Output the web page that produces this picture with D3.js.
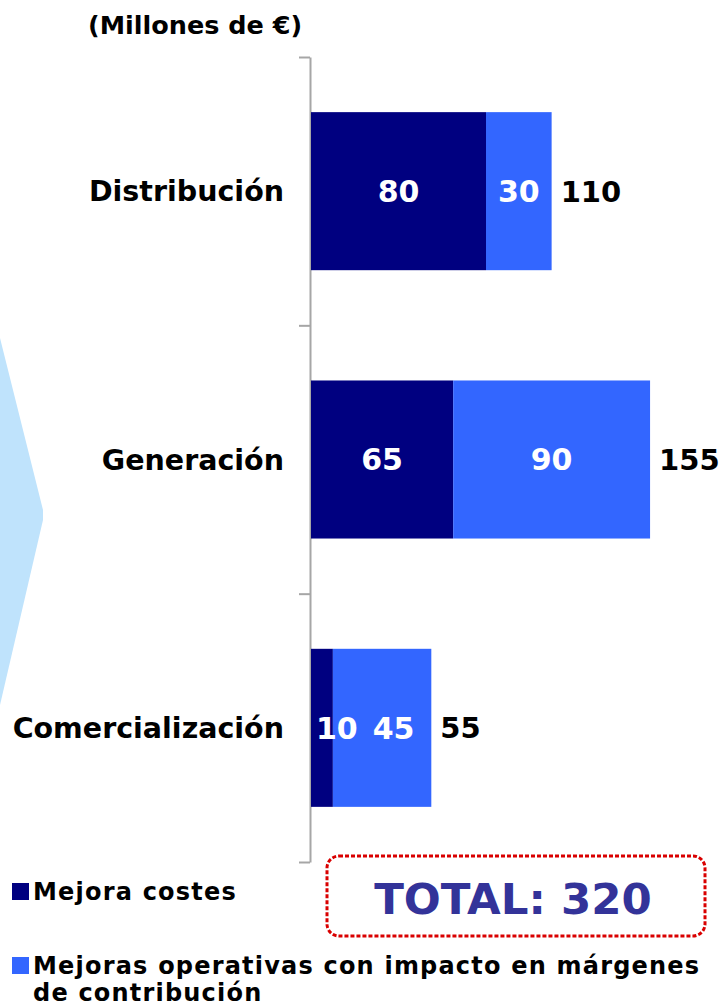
<!DOCTYPE html>
<html>
<head>
<meta charset="utf-8">
<script src="https://cdn.jsdelivr.net/npm/d3@7"></script>
<style>
  html, body { margin: 0; padding: 0; background: #fff; }
  svg { display: block; }
  text { font-family: "DejaVu Sans", Verdana, sans-serif; font-weight: bold; }
</style>
</head>
<body>
<svg id="chart" width="719" height="1007"></svg>
<script>
// ---- data ----
const categories = ["Distribución", "Generación", "Comercialización"];
const seriesNames = ["Mejora costes", "Mejoras operativas con impacto en márgenes de contribución"];
const costes = [80, 65, 10];
const operativas = [30, 90, 45];
const totals = [110, 155, 55];
const unitLabel = "(Millones de €)";
const totalLabel = "TOTAL: 320";

// ---- style ----
const colors = ["#000080", "#3366FF"];
const svg = d3.select("#chart");

// background chevron
svg.append("path")
  .attr("d", "M-20,335 L0,338 L43,510 L43,520 L0,705 L-20,705 Z")
  .attr("fill", "#BFE3FC");

// scales
const y = d3.scaleBand().domain(categories).range([57, 862]).paddingInner(0.411).paddingOuter(0.2055);
const x = d3.scaleLinear().domain([0, 100]).range([311, 529.75]);
const yTicks = d3.scaleLinear().domain([0, 3]).range([57, 862]);

// axis with ticks at band boundaries
const axisG = svg.append("g").attr("transform", "translate(310,0)")
  .call(d3.axisLeft(yTicks).tickValues([0, 1, 2, 3]).tickFormat("").tickSize(11).tickSizeOuter(0));
axisG.selectAll("path, line").attr("stroke", "#A6A6A6").attr("stroke-width", 2);

// stacked data
const rows = categories.map((c, i) => ({ cat: c, vals: [costes[i], operativas[i]], total: totals[i] }));

rows.forEach(r => {
  let acc = 0;
  const segs = r.vals.map((v, k) => { const s = { x0: acc, x1: acc + v, v, k }; acc += v; return s; });
  const g = svg.append("g");
  g.selectAll("rect").data(segs).join("rect")
    .attr("x", d => x(d.x0))
    .attr("width", d => x(d.x1) - x(d.x0))
    .attr("y", y(r.cat))
    .attr("height", y.bandwidth())
    .attr("fill", d => colors[d.k]);

  // labels inside segments, with simple overlap avoidance
  const cy = y(r.cat) + y.bandwidth() / 2;
  let prevRight = -Infinity;
  segs.forEach((s, idx) => {
    const t = g.append("text").text(s.v)
      .attr("font-size", 30).attr("fill", "#fff")
      .attr("dy", "0.36em").attr("text-anchor", "start");
    const w = t.node().getComputedTextLength();
    let left = (x(s.x0) + x(s.x1)) / 2 - w / 2;
    if (idx === 0) left = Math.max(left, x(s.x0) + 5);
    else left = Math.max(left, prevRight + 15);
    t.attr("x", left).attr("y", cy);
    prevRight = left + w;
  });
  // total label
  g.append("text").text(r.total)
    .attr("x", x(r.total) + 9).attr("y", cy).attr("dy", "0.36em")
    .attr("font-size", 29).attr("fill", "#000");
  // category label
  svg.append("text").text(r.cat)
    .attr("x", 284).attr("y", cy).attr("dy", "0.36em")
    .attr("text-anchor", "end").attr("font-size", 28.5).attr("fill", "#000");
});

// unit label
svg.append("text").text(unitLabel)
  .attr("x", 88).attr("y", 34).attr("font-size", 25.5).attr("fill", "#000");

// total box
svg.append("rect")
  .attr("x", 327).attr("y", 856).attr("width", 378).attr("height", 80)
  .attr("rx", 12).attr("ry", 12)
  .attr("fill", "#fff").attr("stroke", "#D90000").attr("stroke-width", 3)
  .attr("stroke-dasharray", "4,2");
svg.append("text").text(totalLabel)
  .attr("x", 513).attr("y", 914).attr("text-anchor", "middle")
  .attr("font-size", 43.5).attr("fill", "#333399");

// legend
const legend = [
  { color: colors[0], lines: [seriesNames[0]], y: 900 },
  { color: colors[1], lines: ["Mejoras operativas con impacto en márgenes", "de contribución"], y: 974 }
];
legend.forEach(l => {
  svg.append("rect").attr("x", 12).attr("y", l.y - 17).attr("width", 17).attr("height", 17).attr("fill", l.color);
  l.lines.forEach((ln, i) => {
    svg.append("text").text(ln).attr("x", 33).attr("y", l.y + i * 27)
      .attr("font-size", 24).attr("letter-spacing", 1.2).attr("fill", "#000");
  });
});
</script>
</body>
</html>
